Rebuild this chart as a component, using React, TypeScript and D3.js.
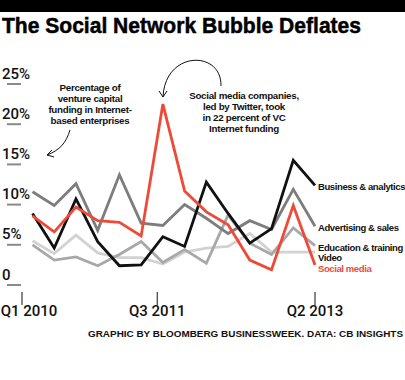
import React from "react";
import * as d3 from "d3";

const quarters = [
  "Q1 2010", "Q2 2010", "Q3 2010", "Q4 2010",
  "Q1 2011", "Q2 2011", "Q3 2011", "Q4 2011",
  "Q1 2012", "Q2 2012", "Q3 2012", "Q4 2012",
  "Q1 2013", "Q2 2013",
];
const business = [8.9, 4.6, 10.7, 5.4, 2.4, 2.5, 6.0, 4.8, 12.8, 8.9, 5.2, 7.0, 15.5, 12.4];
const advertising = [11.6, 9.9, 12.6, 6.8, 13.7, 7.7, 7.4, 10.0, 8.3, 6.4, 8.0, 6.9, 11.9, 7.3];
const education = [5.0, 3.1, 3.5, 2.4, 3.8, 5.4, 2.8, 4.4, 2.7, 8.7, 5.2, 3.8, 7.1, 4.9];
const video = [5.5, 3.9, 6.2, 4.0, 3.4, 3.4, 2.6, 4.1, 4.6, 4.8, 6.4, 4.1, 4.1, 4.1];
const social = [8.6, 6.6, 9.7, 8.0, 7.8, 6.1, 22.5, 11.7, 9.1, 7.5, 3.1, 1.9, 9.9, 2.5];

const seriesNames = ["Business & analytics", "Advertising & sales", "Education & training", "Video", "Social media"];
const seriesColors = ["#111111", "#7d7d7d", "#a8a8a8", "#d2d2d2", "#ee4a38"];
const labelColors = ["#111111", "#111111", "#111111", "#111111", "#ee4a38"];

const yTicks = [0, 5, 10, 15, 20, 25];
const xTickIdx = [0, 6, 13];

const title = "The Social Network Bubble Deflates";
const note1 = ["Percentage of", "venture capital", "funding in Internet-", "based enterprises"];
const note2 = ["Social media companies,", "led by Twitter, took", "in 22 percent of VC", "Internet funding"];
const footer = "GRAPHIC BY BLOOMBERG BUSINESSWEEK. DATA: CB INSIGHTS";

const W = 405;
const H = 380;
const FONT = "'Liberation Sans', Arial, Helvetica, sans-serif";

export default function App() {
  const allSeries = [business, advertising, education, video, social];
  const n = quarters.length;
  const x = d3.scaleLinear().domain([0, n - 1]).range([32.5, 315]);
  const xAxis = d3.scaleLinear().domain([0, n - 1]).range([22, 315]);
  const y = d3.scaleLinear().domain([0, 25]).range([285, 84]);
  const line = d3
    .line<number>()
    .x((_, i) => x(i))
    .y((d) => y(d));

  const ends = allSeries.map((s, k) => ({ k, y: y(s[s.length - 1]) + 5 }));
  const sorted = [...ends].sort((a, b) => a.y - b.y);
  for (let i = 1; i < sorted.length; i++) {
    if (sorted[i].y - sorted[i - 1].y < 10.5) sorted[i].y = sorted[i - 1].y + 10.5;
  }

  const drawOrder = [3, 2, 1, 0, 4];

  return (
    <svg
      width={W}
      height={H}
      style={{ position: "absolute", left: 0, top: 0, background: "#fff" }}
      fontFamily={FONT}
    >
      <rect x={0} y={0} width={W} height={12} fill="#000" />
      <text
        x={2}
        y={33}
        fontSize={22.5}
        fontWeight="bold"
        stroke="#000"
        strokeWidth={0.5}
        textLength={359}
        lengthAdjust="spacingAndGlyphs"
        fill="#000"
      >
        {title}
      </text>

      {yTicks.map((t) => (
        <g key={t}>
          <text x={2} y={y(t) - 5.5} fontSize={15} fontWeight={500} fontFamily="Roboto, sans-serif" fill="#111">
            {t === 0 ? "0" : `${t}%`}
          </text>
          <line x1={7} x2={21} y1={y(t)} y2={y(t)} stroke="#8a8a8a" strokeWidth={2} />
        </g>
      ))}

      {xTickIdx.map((i) => (
        <g key={i}>
          <line x1={xAxis(i)} x2={xAxis(i)} y1={292} y2={305} stroke="#111" strokeWidth={1} />
          <text
            x={Math.max(xAxis(i), 29)}
            y={316}
            fontSize={15}
            fontWeight={500}
            fontFamily="Roboto, sans-serif"
            textAnchor="middle"
            fill="#111"
          >
            {quarters[i]}
          </text>
        </g>
      ))}

      {drawOrder.map((k) => (
        <path
          key={k}
          d={line(allSeries[k]) || ""}
          fill="none"
          stroke={seriesColors[k]}
          strokeWidth={2.8}
          strokeLinejoin="miter"
        />
      ))}

      {ends.map((e) => (
        <text
          key={e.k}
          x={x(n - 1) + 3}
          y={e.y}
          fontSize={9.5}
          fontWeight="bold"
          letterSpacing={-0.4}
          fill={labelColors[e.k]}
        >
          {seriesNames[e.k]}
        </text>
      ))}

      {note1.map((s, i) => (
        <text key={i} x={90} y={91 + i * 11} fontSize={9.8} fontWeight="bold" letterSpacing={-0.3} textAnchor="middle" fill="#111">
          {s}
        </text>
      ))}
      <path d="M70,130 C66,143 60,150 47,155" fill="none" stroke="#111" strokeWidth={1} />
      <path d="M52,150 L47,155 L54,157" fill="none" stroke="#111" strokeWidth={1} />

      {note2.map((s, i) => (
        <text key={i} x={244} y={99 + i * 11} fontSize={9.8} fontWeight="bold" letterSpacing={-0.3} textAnchor="middle" fill="#111">
          {s}
        </text>
      ))}
      <path d="M221,86 C222,50 165,50 163,97" fill="none" stroke="#111" strokeWidth={1} />
      <path d="M159,91 L163,97 L167,91" fill="none" stroke="#111" strokeWidth={1} />

      <text
        x={403}
        y={337}
        fontSize={8.5}
        fontWeight="bold"
        textAnchor="end"
        textLength={315}
        lengthAdjust="spacingAndGlyphs"
        fill="#111"
      >
        {footer}
      </text>
    </svg>
  );
}
